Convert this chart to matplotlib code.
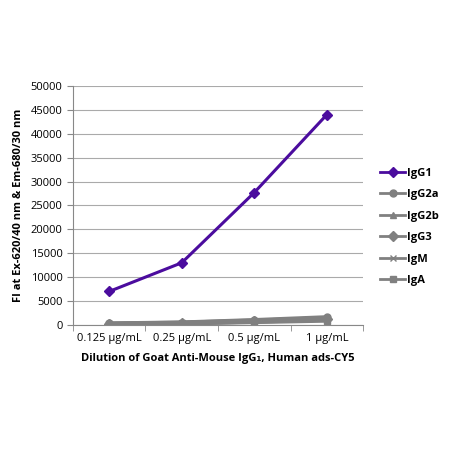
import numpy as np
import matplotlib
matplotlib.use('Agg')
import matplotlib.pyplot as plt

plt.rcParams['font.family'] = ['Open Sans', 'DejaVu Sans']

categories = ['0.125 µg/mL', '0.25 µg/mL', '0.5 µg/mL', '1 µg/mL']
igg1 = [7000, 13000, 27700, 44000]
igg2a = [300, 500, 1000, 1600]
igg2b = [250, 450, 900, 1400]
igg3 = [200, 400, 800, 1300]
igm = [150, 350, 700, 1100]
iga = [100, 300, 600, 900]

series = [
    ('IgG1', igg1, '#4B0C9E', 'D', 2.2),
    ('IgG2a', igg2a, '#808080', 'o', 3),
    ('IgG2b', igg2b, '#808080', '^', 3),
    ('IgG3', igg3, '#808080', 'D', 3),
    ('IgM', igm, '#808080', 'x', 3),
    ('IgA', iga, '#808080', 's', 3),
]

fig = plt.figure(figsize=(4.5, 4.5), dpi=100)
ax = fig.add_axes([0.162, 0.278, 0.645, 0.531])
x = np.arange(len(categories))
for name, vals, col, mk, lw in series:
    ax.plot(x, vals, '-', color=col, lw=lw, marker=mk, markersize=5,
            markeredgecolor=col, label=name)

ax.set_xlim(-0.5, 3.5)
ax.set_ylim(0, 50000)
ax.set_yticks(np.arange(0, 50001, 5000))
ax.set_xticks(x)
ax.set_xticklabels(categories)
ax.set_xticks(np.arange(-0.5, 3.6, 1), minor=True)
ax.tick_params(axis='x', which='major', length=0, labelsize=8, pad=6)
ax.tick_params(axis='x', which='minor', length=4, color='#888888')
ax.tick_params(axis='y', length=4, color='#888888', labelsize=8)
ax.grid(axis='y', color='#aaaaaa', lw=0.8)
ax.set_axisbelow(True)
for s in ['top', 'right']:
    ax.spines[s].set_visible(False)
ax.spines['left'].set_color('#888888')
ax.spines['bottom'].set_color('#888888')

ax.set_xlabel('Dilution of Goat Anti-Mouse IgG\u2081, Human ads-CY5',
              fontsize=8, fontweight='bold', labelpad=6)
ax.set_ylabel('FI at Ex-620/40 nm & Em-680/30 nm', fontsize=8,
              fontweight='bold', labelpad=5)

leg = ax.legend(loc='center left', bbox_to_anchor=(1.025, 0.41), frameon=False,
                prop={'size': 8, 'weight': 'bold'}, handlelength=2.2,
                labelspacing=0.95, handletextpad=0.2)
for h in leg.get_lines():
    h.set_linewidth(2)

fig.savefig('out.png', dpi=100)
